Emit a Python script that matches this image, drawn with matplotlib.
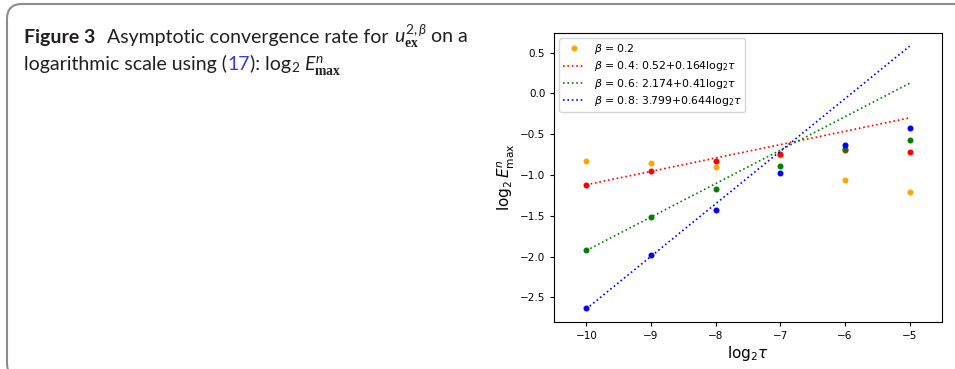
import matplotlib
matplotlib.use("Agg")
import matplotlib.pyplot as plt
import numpy as np
from matplotlib.patches import FancyBboxPatch

# data
tau = [-10, -9, -8, -7, -6, -5]
err_b02 = [-0.83, -0.855, -0.90, -0.75, -1.065, -1.21]
err_b04 = [-1.118, -0.955, -0.83, -0.744, -0.70, -0.72]
err_b06 = [-1.923, -1.51, -1.167, -0.89, -0.687, -0.57]
err_b08 = [-2.626, -1.984, -1.427, -0.972, -0.638, -0.423]

# fitted lines: intercept, slope
fit_b04 = (0.52, 0.164)
fit_b06 = (2.174, 0.41)
fit_b08 = (3.799, 0.644)

W, H = 955, 369
plt.rcParams['mathtext.fontset'] = 'dejavusans'
plt.rcParams['mathtext.rm'] = 'Lato'
plt.rcParams['mathtext.it'] = 'Lato:italic'
plt.rcParams['mathtext.bf'] = 'Liberation Serif:bold'

fig = plt.figure(figsize=(W / 100, H / 100), dpi=100)

# caption frame (bottom edge falls just below the image)
frame = FancyBboxPatch((7, -9), 1100, 374, boxstyle="round,pad=0,rounding_size=15",
                       transform=None, facecolor='none', edgecolor='#8c8c8c', lw=1.5)
fig.add_artist(frame)

# caption text, pieces placed one after another
cap_size = 14
cap_col = '#231f20'
fig.canvas.draw()
renderer = fig.canvas.get_renderer()


def put(x, y, s, **kw):
    kw.setdefault('color', cap_col)
    t = fig.text(x / W, 1 - y / H, s, va='baseline', ha='left',
                 fontsize=cap_size, family='Lato', math_fontfamily='custom', **kw)
    bb = t.get_window_extent(renderer)
    return x + bb.width


x = put(24, 42.5, 'Figure 3', weight='bold')
x = put(x + 12, 42.5, 'Asymptotic convergence rate for ')
x = put(x, 42.5, r'$u_{\mathbf{ex}}^{2,\beta}$')
x = put(x + 5, 42.5, 'on a')
x = put(24, 70, 'logarithmic scale using (')
x = put(x, 70, '17', color='#3b3bd4')
x = put(x, 70, '): log')
x = put(x, 70, r'$_2$')
x = put(x + 4, 70, r'$E_{\mathbf{max}}^n$')

# the chart
ax = fig.add_axes([554 / W, 1 - 322 / H, (942 - 554) / W, (322 - 33) / H])
xs = np.array(tau)
ax.plot(tau, err_b02, 'o', color='orange', ms=3.3, label=r'$\beta$ = 0.2')
ax.plot(tau, err_b04, 'o', color='red', ms=3.3)
ax.plot(xs, fit_b04[0] + fit_b04[1] * xs, ':', color='red', lw=1.2,
        label=r'$\beta$ = 0.4: 0.52+0.164$\mathrm{log}_2\tau$')
ax.plot(tau, err_b06, 'o', color='green', ms=3.3)
ax.plot(xs, fit_b06[0] + fit_b06[1] * xs, ':', color='green', lw=1.2,
        label=r'$\beta$ = 0.6: 2.174+0.41$\mathrm{log}_2\tau$')
ax.plot(tau, err_b08, 'o', color='blue', ms=3.3)
ax.plot(xs, fit_b08[0] + fit_b08[1] * xs, ':', color='blue', lw=1.2,
        label=r'$\beta$ = 0.8: 3.799+0.644$\mathrm{log}_2\tau$')

ax.set_xlim(-10.5, -4.5)
ax.set_xticks(tau)
ax.set_yticks([0.5, 0.0, -0.5, -1.0, -1.5, -2.0, -2.5])
ax.tick_params(labelsize=7.5, length=2.8, width=0.8)
ax.set_xlabel(r'$\mathrm{log}_2\tau$', fontsize=11, labelpad=2)
ax.set_ylabel(r'$\log_2 E_{\max}^n$', fontsize=11, labelpad=2)
for sp in ax.spines.values():
    sp.set_linewidth(0.8)
ax.legend(loc='upper left', fontsize=7.8, labelspacing=0.3, borderpad=0.35)

fig.savefig('out.png', dpi=100)
